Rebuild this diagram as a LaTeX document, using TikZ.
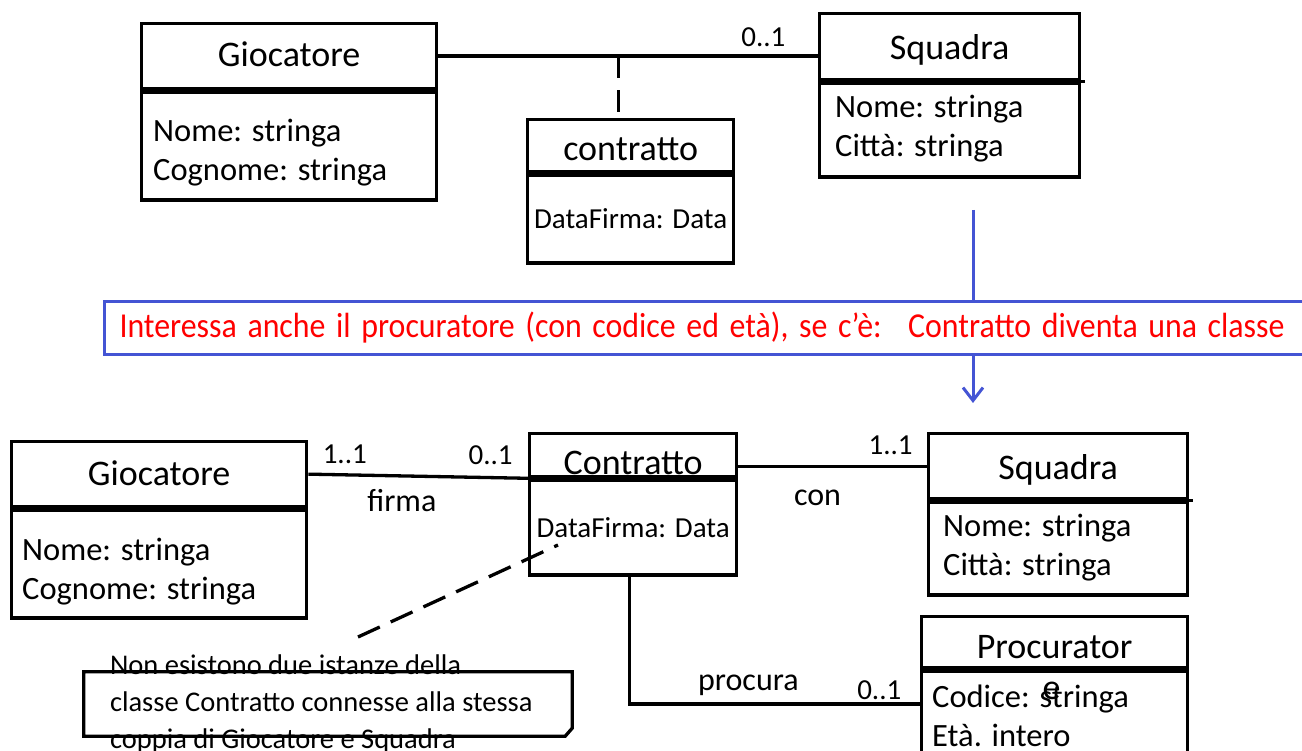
\documentclass[tikz,border=0pt]{standalone}
\usepackage{fontspec}
\setmainfont{Carlito}
\usepackage{xcolor}
\usepackage{graphicx}
\usepackage{tikz}
\usetikzlibrary{arrows.meta, positioning}

\definecolor{umlblue}{RGB}{68,84,212}
\newcommand{\clsfont}{\fontsize{36}{39}\selectfont}
\newcommand{\attrfont}{\fontsize{32.5}{39}\selectfont}
\newcommand{\multfont}{\fontsize{29}{32}\selectfont}
\newcommand{\relfont}{\fontsize{32}{34}\selectfont}
\newcommand{\notefont}{\fontsize{28.5}{37}\selectfont}
\newcommand{\bannerfont}{\fontsize{35}{37}\selectfont}

\begin{document}
\begin{tikzpicture}[
    x=1pt, y=-1pt,
    clsname/.style={rectangle, draw=black, line width=3.3pt, inner sep=0pt,
                    font=\clsfont, anchor=north west, text height=26pt, text depth=0pt},
    clsbody/.style={rectangle, draw=black, line width=3.3pt, inner sep=0pt},
    attr/.style={font=\attrfont, align=left, inner sep=0pt, anchor=base west},
    mult/.style={font=\multfont, inner sep=0pt},
    rel/.style={font=\relfont, inner sep=0pt},
    link/.style={line width=3.3pt, black},
    dlink/.style={line width=3.3pt, black, dash pattern=on 22pt off 12pt},
    flow/.style={line width=3pt, umlblue},
    banner/.style={rectangle, draw=umlblue, line width=3pt, text=red,
                   font=\bannerfont, align=left, text width=1200pt,
                   inner xsep=15pt, inner ysep=0pt, minimum height=53pt},
    notebox/.style={rectangle, inner sep=0pt, minimum width=488pt, minimum height=64pt},
    notetext/.style={font=\notefont, align=left, inner sep=0pt}
]
\useasboundingbox (0,0) rectangle (1302,751);

% --- prima versione: contratto come classe associativa
\node[clsname, minimum width=295pt, minimum height=65pt, text height=20pt] (gioc1) at (140,22) {Giocatore};
\node[clsbody, minimum width=295pt, minimum height=108pt, below=0pt of gioc1] (gioc1b) {};
\node[attr] (gioc1a) at (153,181) {Nome: stringa\\Cognome: stringa};

\node[clsname, minimum width=260pt, minimum height=66pt] (sq1) at (818,12) {Squadra};
\node[clsbody, minimum width=260pt, minimum height=94pt, below=0pt of sq1] (sq1b) {};
\node[attr] (sq1a) at (835,157) {Nome: stringa\\Città: stringa};
\draw[link] (sq1.south east) -- ++(4,0);

\node[clsname, minimum width=206pt, minimum height=52pt, text height=30pt] (contr1) at (526,118) {contratto};
\node[clsbody, minimum width=206pt, minimum height=88pt, below=0pt of contr1, font=\multfont] (contr1b) {DataFirma: Data};

\draw[link] (gioc1.east) -- node[mult, pos=0.856, above=8pt] (m01a) {0..1} (gioc1.east -| sq1.west);
\path (gioc1.east) -- (gioc1.east -| sq1.west) coordinate[pos=0.475] (assocmid);
\draw[dlink] (assocmid) -- (assocmid |- contr1.north);

% --- passaggio
\coordinate (flowtop) at (973,210);
\coordinate (flowend) at (973,403);
\node[banner, anchor=north west] (banner) at (103,300) {\resizebox{1165pt}{\height}{Interessa anche il procuratore (con codice ed età), se c’è:~ Contratto diventa una classe}};
\draw[flow] (flowtop) -- (flowtop |- banner.north);
\draw[flow, -{Straight Barb[length=13pt, width=20pt]}] (flowtop |- banner.south) -- (flowend);

% --- seconda versione: Contratto diventa una classe
\node[clsname, minimum width=295pt, minimum height=65pt, text height=22pt] (gioc2) at (10,440) {Giocatore};
\node[clsbody, minimum width=295pt, minimum height=108pt, below=0pt of gioc2] (gioc2b) {};
\node[attr] (gioc2a) at (22,599) {Nome: stringa\\Cognome: stringa};

\node[clsname, minimum width=207pt, minimum height=43pt, text height=38pt] (contr2) at (528,432) {Contratto};
\node[clsbody, minimum width=207pt, minimum height=95pt, below=0pt of contr2, font=\multfont] (contr2b) {DataFirma: Data};

\node[clsname, minimum width=259pt, minimum height=65pt, text height=27pt] (sq2) at (927,432) {Squadra};
\node[clsbody, minimum width=259pt, minimum height=93pt, below=0pt of sq2] (sq2b) {};
\node[attr] (sq2a) at (943,575) {Nome: stringa\\Città: stringa};
\draw[link] (sq2.south east) -- ++(4,0);

\node[clsname, minimum width=266pt, minimum height=51pt, text height=33pt] (proc) at (920,615) {Procurator};
\node[clsbody, minimum width=266pt, minimum height=110pt, below=0pt of proc] (procb) {};
\node[font=\clsfont, inner sep=0pt, anchor=base] (proce) at ([xshift=-3pt, yshift=-30pt]proc.south) {e};
\node[attr] (proca) at (932,746) {Codice: stringa\\Età. intero};

\draw[link] (gioc2.east) -- node[mult, pos=0.166, above=9pt] (m11a) {1..1}
    node[mult, pos=0.83, above=11pt] (m01b) {0..1}
    node[rel, pos=0.426, below=12pt] (firma) {firma} (contr2.south west);
\draw[link] (sq2.west -| contr2.east) -- node[mult, pos=0.807, above=10pt] (m11b) {1..1}
    node[rel, pos=0.42, below=22pt] (con) {con} (sq2.west);
\draw[link] ([xshift=-4pt]contr2b.south) |- node[rel, pos=0.705, above=7pt] (procura) {procura}
    node[mult, pos=0.93, above=3pt] (m01c) {0..1} ([yshift=22pt]procb.west);

% nota
\node[notebox] (notebox) at (328,704) {};
\draw[link] (notebox.north west) -- (notebox.north east) -- ([yshift=8pt]notebox.south east)
    -- ([xshift=-7pt]notebox.south east) -- (notebox.south west) -- cycle;
\node[notetext, right=26pt of notebox.west] (notetext) {Non esistono due istanze della\\classe Contratto connesse alla stessa\\coppia di Giocatore e Squadra};
\coordinate (notetip) at (358,637);
\coordinate (contrtip) at (558,545);
\draw[dlink, dash pattern=on 24pt off 12pt] (notetip) -- (contrtip);
\end{tikzpicture}
\end{document}
